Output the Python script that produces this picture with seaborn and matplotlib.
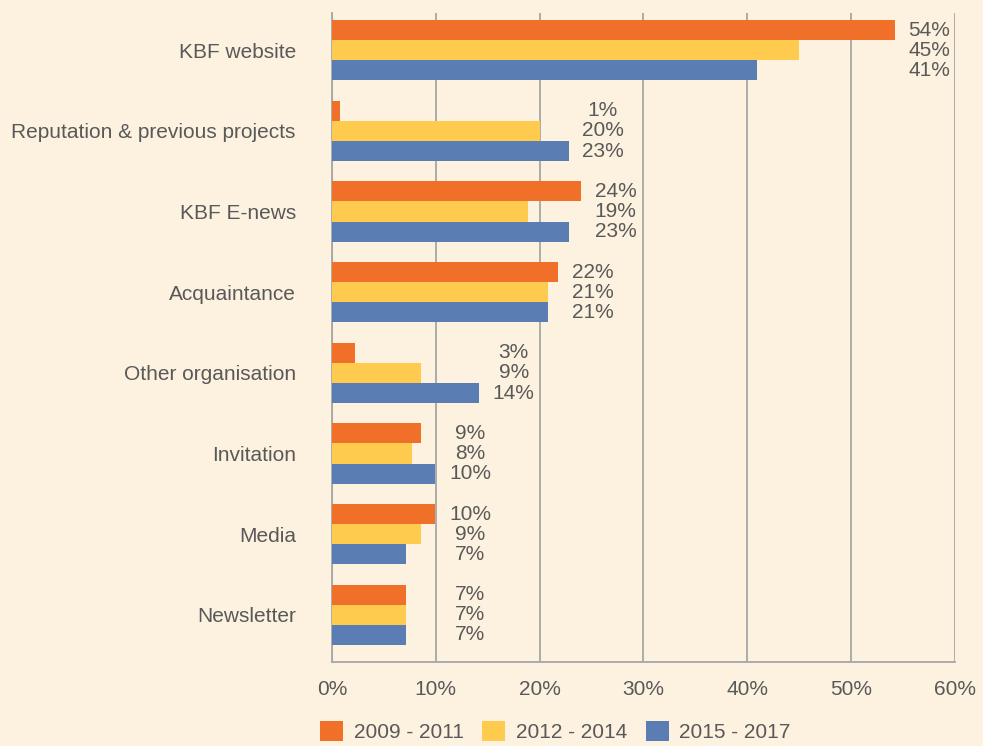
import pandas as pd
import numpy as np
import matplotlib.pyplot as plt
import seaborn as sns
from matplotlib.patches import Patch

# --------------------------
# Data
# --------------------------
categories = ['KBF website', 'Reputation & previous projects', 'KBF E-news',
              'Acquaintance', 'Other organisation', 'Invitation', 'Media', 'Newsletter']
periods = ['2009 - 2011', '2012 - 2014', '2015 - 2017']

# bar lengths (%) as measured on the picture
share_0911 = [54.2, 0.8, 24.0, 21.8, 2.2, 8.6, 9.9, 7.1]
share_1214 = [45.0, 20.0, 18.9, 20.8, 8.6, 7.7, 8.6, 7.1]
share_1517 = [40.9, 22.8, 22.8, 20.8, 14.2, 9.9, 7.1, 7.1]

# printed data labels (%)
label_0911 = [54, 1, 24, 22, 3, 9, 10, 7]
label_1214 = [45, 20, 19, 21, 9, 8, 9, 7]
label_1517 = [41, 23, 23, 21, 14, 10, 7, 7]

colors = ['#F07029', '#FFCB4F', '#5A7DB4']
bg = '#FDF2DF'
text_col = '#595959'

df = pd.DataFrame({
    'category': categories * 3,
    'period': np.repeat(periods, len(categories)),
    'share': share_0911 + share_1214 + share_1517,
})

# --------------------------
# Plot
# --------------------------
sns.set_style('white')
plt.rcParams['font.family'] = ['Liberation Sans', 'DejaVu Sans']

fig = plt.figure(figsize=(9.83, 7.46), dpi=100, facecolor=bg)
ax = fig.add_axes([0.3377, 0.1126, 0.9715 - 0.3377, 0.9826 - 0.1126])
ax.set_facecolor(bg)

sns.barplot(data=df, y='category', x='share', hue='period', order=categories,
            hue_order=periods, palette=colors, width=0.75, saturation=1,
            edgecolor='none', linewidth=0, legend=False, ax=ax, zorder=3)

ax.set_xlim(0, 60)
ax.set_ylim(7.585, -0.462)
ax.set_xticks(range(0, 61, 10))
ax.set_xticklabels([f'{v}%' for v in range(0, 61, 10)], fontsize=15, color=text_col)
ax.tick_params(axis='x', length=0, pad=13)
ax.tick_params(axis='y', length=0, pad=26, labelsize=15, labelcolor=text_col)
ax.set_xlabel('')
ax.set_ylabel('')
ax.grid(axis='x', color='#A6A6A6', linewidth=1.3, zorder=0)
ax.grid(axis='y', visible=False)
for side in ['top', 'right']:
    ax.spines[side].set_visible(False)
for side in ['left', 'bottom']:
    ax.spines[side].set_color('#A6A6A6')
    ax.spines[side].set_linewidth(1.3)

# data labels stacked to the right of each group
for i in range(len(categories)):
    gmax = max(share_0911[i], share_1214[i], share_1517[i])
    xl = max(gmax, 10) + 3.3
    for j, lab in enumerate([label_0911, label_1214, label_1517]):
        ax.text(xl, i + (j - 1) * 0.25, f'{lab[i]}%', ha='center', va='center',
                fontsize=15, color=text_col)

handles = [Patch(facecolor=c, edgecolor='none') for c in colors]
fig.legend(handles, periods, loc='lower center', bbox_to_anchor=(0.565, -0.02),
           ncol=3, frameon=False, fontsize=15, labelcolor=text_col,
           handlelength=1.1, handleheight=1.1, handletextpad=0.5, columnspacing=0.9)

plt.savefig('out.png', dpi=100, facecolor=bg)
